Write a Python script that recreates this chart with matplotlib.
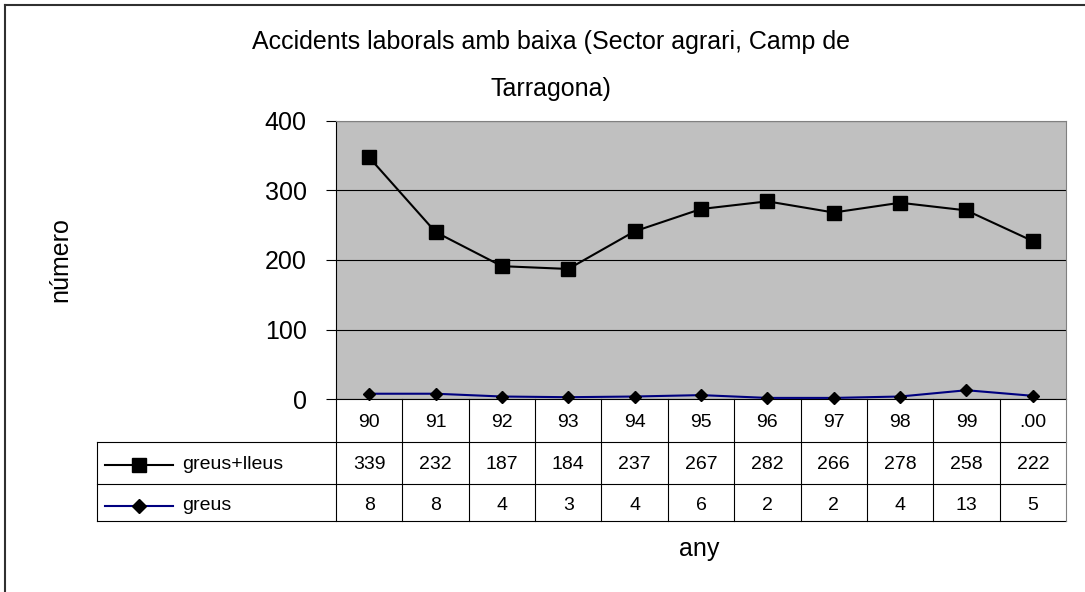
import numpy as np
import matplotlib
matplotlib.use('Agg')
import matplotlib.pyplot as plt
from matplotlib.lines import Line2D
from matplotlib.transforms import blended_transform_factory

plt.rcParams['font.family'] = ['Liberation Sans', 'DejaVu Sans']

# dades
anys = ['90', '91', '92', '93', '94', '95', '96', '97', '98', '99', '.00']
greus_lleus = [339, 232, 187, 184, 237, 267, 282, 266, 278, 258, 222]
greus = [8, 8, 4, 3, 4, 6, 2, 2, 4, 13, 5]

W, H = 1085, 592


def fx(px):
    return px / W


def fy(py):
    return 1 - py / H


fig = plt.figure(figsize=(W / 100, H / 100), dpi=100)

# zona del grafic
ax_l, ax_r, ax_t, ax_b = 336, 1066, 120.5, 399.3
ax = fig.add_axes([fx(ax_l), fy(ax_b), fx(ax_r - ax_l), (ax_b - ax_t) / H])
ax.set_facecolor('#c0c0c0')

x = np.arange(len(anys))
apilat = np.array(greus_lleus) + np.array(greus)  # linies apilades

ax.plot(x, apilat, color='black', lw=1.5, marker='s', ms=10.5,
        mfc='black', mec='black', mew=1, clip_on=False, zorder=4)
ax.plot(x, greus, color='#000080', lw=1.5, marker='D', ms=6.5,
        mfc='black', mec='black', mew=1, clip_on=False, zorder=4)

ax.set_xlim(-0.5, len(anys) - 0.5)
ax.set_ylim(0, 400)
ax.set_yticks([0, 100, 200, 300, 400])
ax.set_xticks([])
ax.set_axisbelow(True)
ax.yaxis.grid(True, color='black', lw=0.8)
ax.tick_params(axis='y', direction='out', length=7, width=0.8, pad=14,
               labelsize=18)
ax.spines['top'].set_color('#808080')
ax.spines['right'].set_color('#808080')
ax.spines['left'].set_color('black')
ax.spines['bottom'].set_color('black')
for s in ax.spines.values():
    s.set_linewidth(0.8)

# titol i etiquetes
fig.text(fx(551), fy(30), 'Accidents laborals amb baixa (Sector agrari, Camp de\nTarragona)',
         ha='center', va='top', fontsize=18, linespacing=2.2,
         multialignment='center')
fig.text(fx(60), fy(260), 'número', rotation=90, ha='center', va='center',
         fontsize=18)
fig.text(fx(699.5), fy(555.7), 'any', ha='center', va='baseline', fontsize=18)

# taula de dades
tr = blended_transform_factory(ax.transData, fig.transFigure)
row_top, row1, row2, row3 = ax_b, 441.7, 483.5, 521
tab_l = 97

for yy in [row1, row2, row3]:
    fig.add_artist(Line2D([fx(tab_l), fx(ax_r)], [fy(yy), fy(yy)],
                          color='black', lw=0.8))
fig.add_artist(Line2D([fx(tab_l), fx(tab_l)], [fy(row1), fy(row3)],
                      color='black', lw=0.8))
for i in range(len(anys) + 1):
    col = '#808080' if i == len(anys) else 'black'
    fig.add_artist(Line2D([i - 0.5, i - 0.5], [fy(row_top), fy(row3)],
                          transform=tr, color=col, lw=0.8))

for i, a in enumerate(anys):
    fig.text(i, fy(426.7), a, transform=tr, ha='center', va='baseline',
             fontsize=14)
    fig.text(i, fy(469.3), str(greus_lleus[i]), transform=tr, ha='center',
             va='baseline', fontsize=14)
    fig.text(i, fy(510), str(greus[i]), transform=tr, ha='center',
             va='baseline', fontsize=14)

# claus de llegenda dins la taula
fig.add_artist(Line2D([fx(105), fx(172.7)], [fy(464.7), fy(464.7)],
                      color='black', lw=1.5))
fig.add_artist(Line2D([fx(139)], [fy(464.7)], marker='s', ms=10.5,
                      mfc='black', mec='black', mew=1))
fig.add_artist(Line2D([fx(105), fx(172.7)], [fy(505.7), fy(505.7)],
                      color='#000080', lw=1.5))
fig.add_artist(Line2D([fx(139)], [fy(505.7)], marker='D', ms=7,
                      mfc='black', mec='black', mew=1))
fig.text(fx(181.7), fy(469.3), 'greus+lleus', ha='left', va='baseline',
         fontsize=14)
fig.text(fx(181.7), fy(510), 'greus', ha='left', va='baseline', fontsize=14)

# marc exterior (nomes es veuen les vores esquerra i superior)
fig.add_artist(Line2D([fx(5), fx(5)], [fy(4.5), 0], color='#303030', lw=1.5))
fig.add_artist(Line2D([fx(5), 1], [fy(4.5), fy(4.5)], color='#303030', lw=1.5))

fig.savefig('out.png', dpi=100)
